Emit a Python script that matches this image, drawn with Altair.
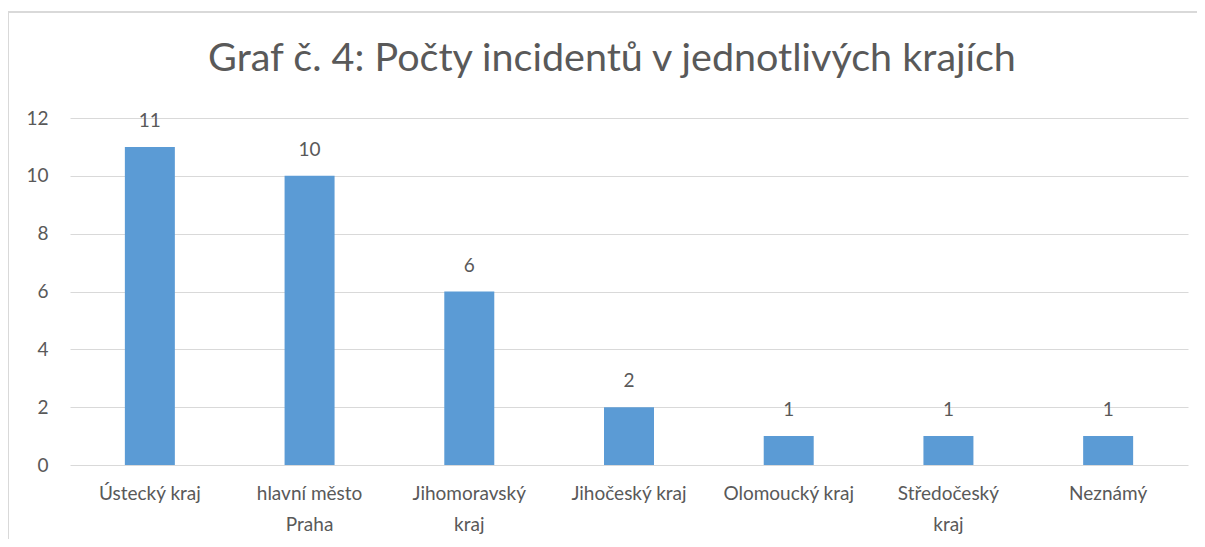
import altair as alt
import pandas as pd

categories = ["Ústecký kraj", "hlavní město\nPraha", "Jihomoravský\nkraj", "Jihočeský kraj",
              "Olomoucký kraj", "Středočeský\nkraj", "Neznámý"]
values = [11, 10, 6, 2, 1, 1, 1]
y_ticks = [0, 2, 4, 6, 8, 10, 12]
title_text = "Graf č. 4: Počty incidentů v jednotlivých krajích"

df = pd.DataFrame({"kraj": categories, "pocet": values})

FONT = "Lato"
TXT = "#595959"
W, H = 1118, 347

base = alt.Chart(df)

x_enc = alt.X("kraj:N", sort=categories, title=None,
              scale=alt.Scale(paddingInner=0.687, paddingOuter=0.3435),
              axis=alt.Axis(labelAngle=0, labelFont=FONT, labelFontSize=19, labelColor=TXT,
                            labelExpr="split(datum.label, '\\n')", labelLineHeight=31,
                            labelPadding=19, ticks=False, domain=False, labelBaseline="top"))
y_enc = alt.Y("pocet:Q", title=None,
              scale=alt.Scale(domain=[0, 12]),
              axis=alt.Axis(values=y_ticks, labelFont=FONT, labelFontSize=19, labelColor=TXT,
                            ticks=False, domain=False, labelPadding=22,
                            gridColor="#D9D9D9", gridWidth=1))

bars = base.mark_bar(color="#5B9BD5").encode(x=x_enc, y=y_enc)
labels = base.mark_text(font=FONT, fontSize=19, color=TXT, baseline="alphabetic", dy=-20).encode(
    x=alt.X("kraj:N", sort=categories), y="pocet:Q", text="pocet:Q")

frame_top = alt.Chart(df).mark_rule(color="#D9D9D9", strokeWidth=1.5).encode(
    x=alt.value(-62), x2=alt.value(W + 9), y=alt.value(-106))
frame_left = alt.Chart(df).mark_rule(color="#D9D9D9", strokeWidth=1.5).encode(
    x=alt.value(-62), y=alt.value(-106), y2=alt.value(H + 74))

chart = alt.layer(frame_top, frame_left, bars, labels).properties(
    width=W, height=H,
    autosize=alt.AutoSizeParams(type="none"),
    padding={"left": 62, "top": 110, "right": 9, "bottom": 74},
    title=alt.TitleParams(title_text, font=FONT, fontSize=39.5, fontWeight="normal", color=TXT,
                          anchor="middle", dx=-17, dy=38, offset=-61, baseline="alphabetic"),
).configure_view(stroke=None)

chart.save("out.html", embed_options={"renderer": "svg", "actions": False})
